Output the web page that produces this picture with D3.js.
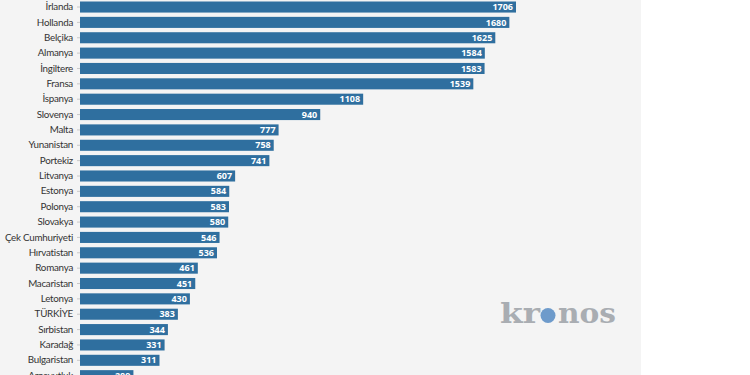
<!DOCTYPE html>
<html>
<head>
<meta charset="utf-8">
<script src="https://cdn.jsdelivr.net/npm/d3@7"></script>
<style>
  body { margin: 0; background: #fff; }
  .charts__text--y-axis text { font-family: Lato, sans-serif; font-size: 9.8px; letter-spacing: -0.25px; fill: #333; }
  .charts__text--y-axis line { stroke: #c8c8c8; }
  .charts__value { font-family: "Open Sans", sans-serif; font-size: 9px; font-weight: 700; fill: #fff; }
</style>
</head>
<body>
<div id="chart" style="width:750px;height:375px;"></div>
<script>
    // countries, top to bottom
    const countries = ["İrlanda", "Hollanda", "Belçika", "Almanya", "İngiltere", "Fransa", "İspanya",
        "Slovenya", "Malta", "Yunanistan", "Portekiz", "Litvanya", "Estonya", "Polonya", "Slovakya",
        "Çek Cumhuriyeti", "Hırvatistan", "Romanya", "Macaristan", "Letonya", "TÜRKİYE", "Sırbistan",
        "Karadağ", "Bulgaristan", "Arnavutluk"];
    const values = [1706, 1680, 1625, 1584, 1583, 1539, 1108, 940, 777, 758, 741, 607, 584, 583, 580,
        546, 536, 461, 451, 430, 383, 344, 331, 311, 209];

    const data = countries.map((c, i) => ({country: c, value: values[i]}));

    const parent = document.getElementById("chart"),
          svgWidth = 750,
          svgHeight = 375;
    const svg = d3.select(parent).append("svg")
        .attr("width", svgWidth)
        .attr("height", svgHeight);

    // light panel behind the chart
    svg.append("rect")
        .attr("width", 641)
        .attr("height", svgHeight)
        .attr("fill", "#f4f4f4");

    const margin = {top: -0.65, left: 80};
    const step = 15.36;

    const x = d3.scaleLinear()
        .domain([0, 1706])
        .range([0, 436]);

    const y = d3.scaleBand()
        .domain(countries)
        .range([0, step * countries.length])
        .paddingInner(0.28)
        .paddingOuter(0.14);

    const g = svg.append("g")
        .attr("transform", "translate(" + margin.left + "," + margin.top + ")");

    // Y axis with country names
    g.append("g")
        .attr("class", "charts__text charts__text--y-axis")
        .call(d3.axisLeft(y).tickSize(3).tickPadding(4))
        .call(ax => ax.select(".domain").remove());

    // bars
    g.append("g")
        .attr("class", "charts__data")
        .selectAll("rect")
        .data(data)
        .join("rect")
        .attr("x", 0)
        .attr("y", d => y(d.country))
        .attr("width", d => x(d.value))
        .attr("height", y.bandwidth())
        .attr("fill", "#2f6f9f");

    // values inside bar ends
    g.append("g")
        .selectAll("text")
        .data(data)
        .join("text")
        .attr("class", "charts__value")
        .attr("text-anchor", "end")
        .attr("x", d => x(d.value) - 3)
        .attr("y", d => y(d.country) + y.bandwidth() / 2)
        .attr("dy", "0.35em")
        .text(d => d.value);

    // kronos logo
    const logo = svg.append("g")
        .attr("transform", "translate(500,323)")
        .style("font-family", "'DejaVu Serif', serif")
        .style("font-weight", "700")
        .style("font-size", "28px")
        .attr("fill", "#a9adb2");
    logo.append("text").attr("x", 0).attr("textLength", 40).attr("lengthAdjust", "spacingAndGlyphs").text("kr");
    logo.append("circle").attr("cx", 48).attr("cy", -7.5).attr("r", 7.5).attr("fill", "#6e9bcb");
    logo.append("text").attr("x", 58).attr("textLength", 58).attr("lengthAdjust", "spacingAndGlyphs").text("nos");
</script>
</body>
</html>
